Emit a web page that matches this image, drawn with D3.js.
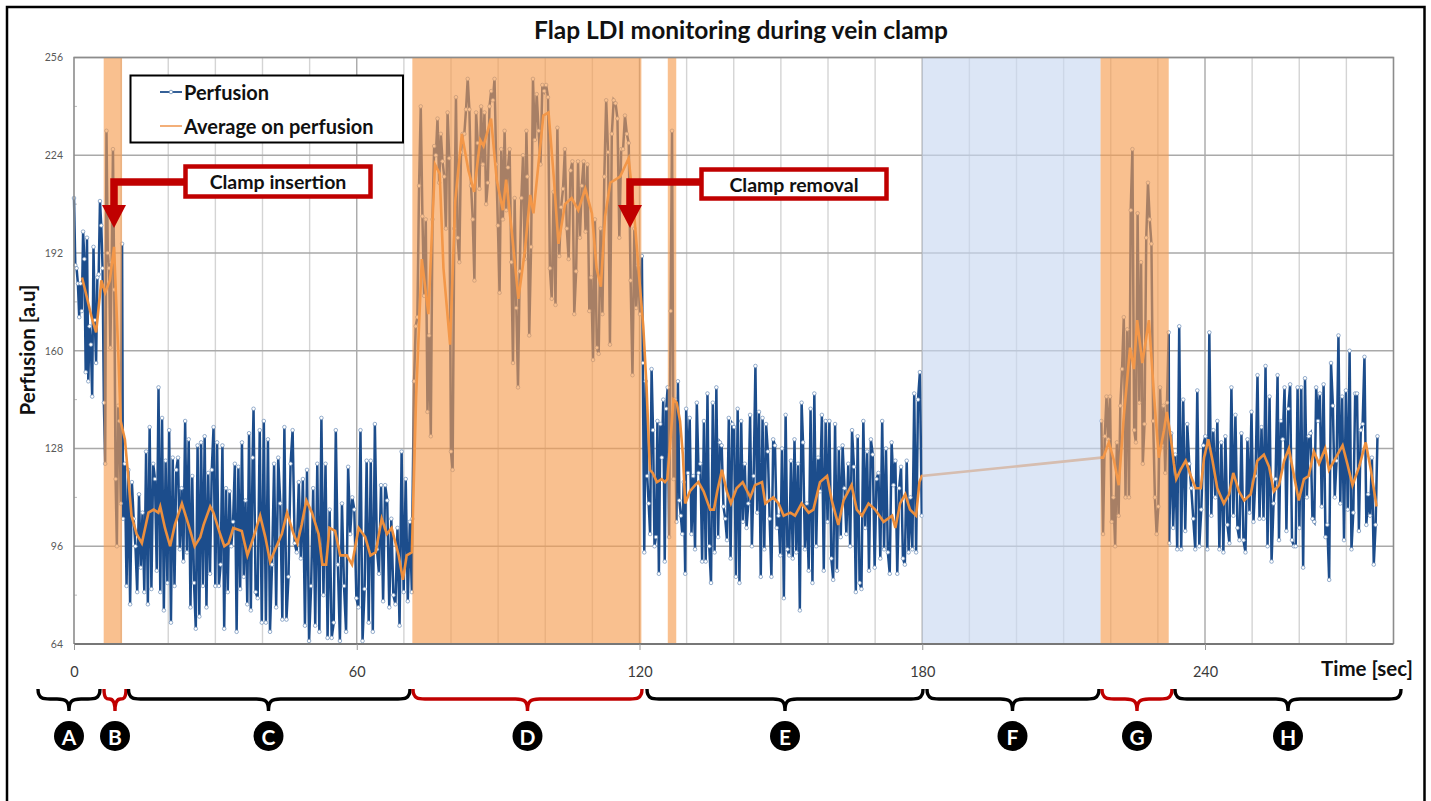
<!DOCTYPE html>
<html lang="en">
<head>
<meta charset="UTF-8">
<title>Flap LDI monitoring during vein clamp</title>
<script src="https://d3js.org/d3.v7.min.js"></script>
<style>
body { margin: 0; background: #fff; }
text { font-family: Lato, "Open Sans", sans-serif; }
</style>
</head>
<body>
<script>
// perfusion readings, one list per stretch of the trace
const perfAB = [210,188,187,182,171,182,173,199,190,153,197,150,168,162,145,194,170,156,184,185,209,201,187,143,123,232,192,187,161,189,226,180,118,96,142,137,110,195];
const perfC1 = [105,123,83,121,77,117,105,96,81,113,89,107,81,127,77,135,82,123,118,88,148,81,138,75,124,84,134,71,125,83,121,125,95,115,91,137,94,131,76,119,84,69,129,73,130,83,132,76,120,87,121,135,83,130,83,90,129,69,115,81,114,96,104,123,68,122,82,130,86,111,77,133,75,125];
const perfC2 = [141,81,79,134,71,137,71,131,68,90,123,76,125,110,72,135,72,86,123,134,97,94,117,92,118,70,121,65,83,115,70,123,68,138,80,123,66,108,66,71,134,90,65,110,83,68,122,100,112,108,79,76,134,65,82,124,71,124,68,136,95,87,116,78,116,111,76,105,80,77,102,70,127,81,118,78,104,81];
const perfD1 = [105,150,168,171,214,240,204,178,203,140,165,132,203,227,224,236,215,231,222,217,200,238,223,127,121,200,243,197,189,225,231,231,239,249,239,214,203,183,238,228,213,240,221,238,208,215,240,245,242,249,221,201,179,226,203,232,206,220,226,189,156,210,174,148,186,210,224,190,232];
const perfD2 = [217,165,194,249,229,244,232,221,247,245,247,243,187,177,212,175,233,191,207,213,226,200,190,219,222,172,186,222,197,214,222,199,221,173,184,157,203,161,159,200,172,217,242,225,162,231,242,241,236,197,226,226,237,231,228,183,152,200,174,188,172,191];
const perfE1 = [156,94,150,119,110,100,154,134,96,99,137,87,136,125,144,91,141,148,99,173,232,118,144,104,150,111,106,100,117,87];
const perfE2 = [141,120,138,100,119,95,143,120,123,91,137,91,146,96,84,143,94,148,99,130,129,109,105,98,138,92,136,135,86,141,84,137,104,123,102,110,139,96,119,155,107,140,86,138,95,136,127,105,86,131,129,102,106,93,128,79,139,95,93,124,92,131,94,123,75,143];
const perfE3 = [130,95,110,88,141,84,146,96,125,114,139,88,137,104,137,92,85,136,88,128,99,129,115,100,123,96,134,122,81,132,84,82,137,102,127,88,131,126,89,118,120,92,137,95,128,94,87,130,116,124,87,115,122,92,90,124,94,112,95,146,94,144,153,106];
const perfG = [137,100,132,145,131,145,104,112,96,130,106,142,154,171,112,167,112,206,226,134,130,205,143,189,123,136,197,215,203,195,137,112,100,109,148,129,142,120,143,166];
const perfH1 = [97,133,102,126,95,168,95,144,101,136,123,115,105,95,147,96,108,129,132,95,166,106,134,112,137,95,130,94,132,103,97,148,106,139,102,98,133,98,94,131,107,140,104,119,152,105,135,105,155,96,145,91,110,118,152];
const perfH2 = [98,137,131,148,101,141,149,98,96,96,148,102,148,89,151,112,132,133,105,104,148,137,146,109,149,99,103,85,156,142,112,124,165,110,145,98,147,108,160,95,107,146,146,101,134,136,158,103,113,106,125,90,103,132];

// start and end second of each stretch
const firstRuns = [[perfAB,0,10.2],[perfC1,10.4,37.9],[perfC2,38.1,71.7],[perfD1,71.8,96],[perfD2,96.2,120.5],[perfE1,120.7,129.7],[perfE2,129.9,154.4],[perfE3,154.7,179.9]];
const secondRuns = [[perfG,218,232.3],[perfH1,232.4,255.4],[perfH2,255.7,276.6]];

const avgTimes = [1.7,2.5,3.9,4.7,5.8,6.6,7.6,8.5,9.4,9.9,10.8,11.5,12.2,13.3,14.4,15.1,15.8,16.9,17.9,18.3,19.3,20.4,21.4,22.9,24.3,25.6,26.8,27.5,28.9,29.6,31,31.9,32.8,33.8,35.6,36.8,38.1,39.5,40.6,41.6,42.7,44.1,45.2,46.6,47.4,48.3,49.3,50.5,51.9,52.7,53.5,54.2,55.4,56.5,57.9,59,60.4,61.8,62.9,64,65.3,66.4,67.4,68.9,69.8,70.6,71.7,72.6,73.8,75.2,76.6,77.6,78.4,79.8,80.9,82.3,83.7,84.9,86.2,86.9,88.5,89.7,91,91.7,92.9,94.3,95.7,96.8,97.5,99.6,100.7,101.8,102.8,104.2,105.6,107,108.5,109.9,110.9,111.8,112.7,113.8,115.9,117.7,118.7,120.1,120.8,121.5,122.2,122.8,123.7,124.7,125.4,125.9,126.5,127.2,127.9,128.6,129.2,129.7,130.7,131.8,132.5,133.6,135,135.8,136.5,137.5,138.5,139.4,140.6,141.9,143.5,144.5,146,146.7,148.4,149.5,150.6,152,153,154.4,155.9,156.9,158.3,159.8,160.8,162.2,163.3,165,166.1,167.2,168.6,170,171.8,173.6,174.3,175.3,176.4,177.4,178.7,179.4,179.9,218,218.4,219.6,220.7,221.7,222.8,224.1,224.9,225.6,226.7,228.1,229.2,230.2,231.3,231.9,232.7,233.4,233.9,234.8,235.9,237,238,239.1,239.8,240.7,241.6,242.6,244,245.1,246,247.2,248.3,249.7,251.1,252.5,253.6,254.6,255.7,256.8,257.8,258.9,259.9,261,262,263.1,264.2,265.5,266.3,267.4,269.2,270.2,271.3,272.7,274.1,275.2,276.4];
const avgValues = [184,179,170,166,183,179,183,194,159,137,131,119,106,100,97,102,107,108,107,109,102,96,103,110,103,96,99,103,109,107,100,96,97,102,101,93,99,106,99,91,95,100,107,100,97,103,111,107,100,90,90,102,101,93,93,90,102,99,93,94,105,100,102,93,85,93,94,145,190,172,221,218,187,162,209,231,219,212,229,227,236,216,206,216,199,177,193,211,205,237,238,217,195,208,210,206,213,205,187,181,204,215,217,223,208,181,168,148,121,120,117,118,117,118,129,144,143,137,126,110,114,116,117,114,108,108,114,121,114,110,115,117,112,116,117,110,112,110,106,107,106,110,107,108,117,119,111,103,111,116,108,106,110,108,104,106,102,110,113,108,106,117,119,125,125,130,124,116,139,161,154,170,156,170,145,125,134,140,132,123,118,121,124,119,115,115,125,131,124,115,110,113,120,114,111,113,124,126,122,114,116,124,128,119,111,118,119,127,123,128,121,124,129,123,116,122,130,121,109];

const bandColoured = [[6.3,10.2],[71.8,120.4],[126,127.8],[217.8,232.3]];
const bandRest = [[180,217.8]];
const yTicks = [64,96,128,160,192,224,256];
const yMinor = [80,112,144,176,208,240];
const xTicks = [0,60,120,180,240];
const gridTimes = [10,20,30,40,50,60,70,80,90,100,110,120,130,140,150,160,170,180,190,200,210,220,230,240,250,260,270];

// phase braces under the axis, pixels on the page: letter, left, right, centre
const phases = [
  ['A',38,100,69,'#000'],
  ['B',104,126,115,'#c00000'],
  ['C',128.5,410,268.5,'#000'],
  ['D',413,642,527.5,'#c00000'],
  ['E',647,923,785,'#000'],
  ['F',927,1099,1012.5,'#000'],
  ['G',1102,1172,1137,'#c00000'],
  ['H',1175,1401,1288,'#000']
];

const width = 1431, height = 801;
const plotL = 74, plotR = 1393.5, plotT = 57.5, plotB = 644;

const svg = d3.select('body').append('svg')
  .attr('width', width)
  .attr('height', height)
  .style('display', 'block');

// soft look of the original
const defs = svg.append('defs');
defs.append('filter').attr('id', 'soft').attr('x', '-2%').attr('y', '-2%').attr('width', '104%').attr('height', '104%')
  .append('feGaussianBlur').attr('stdDeviation', 0.4);

let x = d3.scaleLinear().domain([0, 280]).range([plotL, plotR]);
let y = d3.scaleLinear().domain([64, 256]).range([plotB, plotT]);

// page frame, open at the bottom
svg.append('path')
  .attr('d', `M7,${height}V7H1424.5V${height}`)
  .attr('fill', 'none')
  .attr('stroke', '#000')
  .attr('stroke-width', 2.5);

svg.append('text')
  .attr('x', 741).attr('y', 29)
  .attr('text-anchor', 'middle').attr('dominant-baseline', 'central')
  .attr('font-size', 24.5).attr('font-weight', 700).attr('fill', '#111')
  .text('Flap LDI monitoring during vein clamp');

// grid
let grid = svg.append('g');
grid.selectAll('.v').data(gridTimes).enter().append('line')
  .attr('class', 'v')
  .attr('x1', d => x(d)).attr('x2', d => x(d))
  .attr('y1', plotT).attr('y2', plotB)
  .attr('stroke', d => d % 60 == 0 ? '#a8a8a8' : '#d4d4d4')
  .attr('stroke-width', 1.4);
grid.selectAll('.h').data(yTicks.slice(1)).enter().append('line')
  .attr('class', 'h')
  .attr('x1', plotL).attr('x2', plotR)
  .attr('y1', d => y(d)).attr('y2', d => y(d))
  .attr('stroke', '#a9a9a9')
  .attr('stroke-width', 1.4);
grid.selectAll('.m').data(yMinor).enter().append('line')
  .attr('class', 'm')
  .attr('x1', plotL).attr('x2', plotL + 3)
  .attr('y1', d => y(d)).attr('y2', d => y(d))
  .attr('stroke', '#bbb');

// expand the stretches into time/value points
function toPoints(runs) {
  let pts = [];
  runs.forEach(([vals, t0, t1]) => {
    vals.forEach((v, i) => pts.push({ t: t0 + i * (t1 - t0) / (vals.length - 1), v: v }));
  });
  return pts;
}
const perfusionFirst = toPoints(firstRuns);
const perfusionSecond = toPoints(secondRuns);
const average = avgTimes.map((t, i) => ({ t: t, v: avgValues[i] }));

const line = d3.line().x(d => x(d.t)).y(d => y(d.v));

let marks = svg.append('g').attr('filter', 'url(#soft)');
[perfusionFirst, perfusionSecond].forEach(pts => {
  marks.append('path')
    .attr('d', line(pts))
    .attr('fill', 'none')
    .attr('stroke', '#1f4e8c')
    .attr('stroke-width', 2.5);
});
marks.selectAll('circle').data(perfusionFirst.concat(perfusionSecond)).enter().append('circle')
  .attr('cx', d => x(d.t))
  .attr('cy', d => y(d.v))
  .attr('r', 1.8)
  .attr('fill', '#fff')
  .attr('stroke', '#6a8db8')
  .attr('stroke-width', 0.7);
marks.append('path')
  .attr('d', line(average))
  .attr('fill', 'none')
  .attr('stroke', '#ed8f3c')
  .attr('stroke-width', 2.6);

// shaded phases sit over the traces
let bands = svg.append('g');
bands.selectAll('.o').data(bandColoured).enter().append('rect')
  .attr('class', 'o')
  .attr('x', d => x(d[0])).attr('width', d => x(d[1]) - x(d[0]))
  .attr('y', plotT).attr('height', plotB - plotT)
  .attr('fill', '#f69c50').attr('fill-opacity', 0.64);
bands.selectAll('.b').data(bandRest).enter().append('rect')
  .attr('class', 'b')
  .attr('x', d => x(d[0])).attr('width', d => x(d[1]) - x(d[0]))
  .attr('y', plotT).attr('height', plotB - plotT)
  .attr('fill', '#c8d8f1').attr('fill-opacity', 0.64);

// plot edges
svg.append('path')
  .attr('d', `M${plotL},${plotB}V${plotT}H${plotR}V${plotB}`)
  .attr('fill', 'none').attr('stroke', '#8c8c8c').attr('stroke-width', 1.6);

// axes
let yAxis = svg.append('g')
  .attr('transform', `translate(${plotL - 11},0)`)
  .call(d3.axisLeft(y).tickValues(yTicks).tickSize(0).tickPadding(0));
yAxis.select('.domain').remove();
yAxis.selectAll('text').attr('font-size', 10.5).attr('fill', '#595959').style('font-family', 'Lato, sans-serif');

let xAxis = svg.append('g')
  .attr('transform', `translate(0,${plotB})`)
  .call(d3.axisBottom(x).tickValues(xTicks).tickSize(6).tickPadding(17));
xAxis.select('.domain').attr('d', `M${plotL},0H${plotR}`).attr('stroke', '#777').attr('stroke-width', 2);
xAxis.selectAll('line').attr('stroke', '#999');
xAxis.selectAll('text').attr('font-size', 14.5).attr('fill', '#3a3a3a').style('font-family', 'Lato, sans-serif');

svg.append('text')
  .attr('transform', 'translate(27,350) rotate(-90)')
  .attr('text-anchor', 'middle').attr('dominant-baseline', 'central')
  .attr('font-size', 20.5).attr('font-weight', 700).attr('fill', '#111')
  .text('Perfusion [a.u]');
svg.append('text')
  .attr('x', 1413).attr('y', 668)
  .attr('text-anchor', 'end').attr('dominant-baseline', 'central')
  .attr('font-size', 20.5).attr('font-weight', 700).attr('fill', '#111')
  .text('Time [sec]');

// legend
let legend = svg.append('g');
legend.append('rect')
  .attr('x', 130.5).attr('y', 75.5).attr('width', 272.5).attr('height', 67)
  .attr('fill', '#fff').attr('stroke', '#000').attr('stroke-width', 2);
legend.append('line').attr('x1', 160).attr('x2', 182).attr('y1', 92).attr('y2', 92)
  .attr('stroke', '#1f4e8c').attr('stroke-width', 1.8);
legend.append('circle').attr('cx', 171).attr('cy', 92).attr('r', 1.8)
  .attr('fill', '#fff').attr('stroke', '#6a8db8').attr('stroke-width', 0.8);
legend.append('line').attr('x1', 160).attr('x2', 182).attr('y1', 126).attr('y2', 126)
  .attr('stroke', '#f2a66a').attr('stroke-width', 1.8);
legend.selectAll('text').data([['Perfusion', 92], ['Average on perfusion', 126]]).enter().append('text')
  .attr('x', 184).attr('y', d => d[1])
  .attr('dominant-baseline', 'central')
  .attr('font-size', 20).attr('font-weight', 700).attr('fill', '#111')
  .text(d => d[0]);

// clamp callouts
const darkRed = '#c00000';
function callout(boxX, boxY, boxW, boxH, label, arrowX, arrowY) {
  let g = svg.append('g');
  g.append('path')
    .attr('d', `M${boxX},${arrowY}H${arrowX}V206`)
    .attr('fill', 'none').attr('stroke', darkRed).attr('stroke-width', 7.5);
  g.append('path')
    .attr('d', `M${arrowX - 12},205H${arrowX + 12}L${arrowX},228Z`)
    .attr('fill', darkRed);
  g.append('rect')
    .attr('x', boxX).attr('y', boxY).attr('width', boxW).attr('height', boxH)
    .attr('fill', '#fff').attr('stroke', darkRed).attr('stroke-width', 4.5);
  g.append('text')
    .attr('x', boxX + boxW / 2).attr('y', boxY + boxH / 2)
    .attr('text-anchor', 'middle').attr('dominant-baseline', 'central')
    .attr('font-size', 19.5).attr('font-weight', 700).attr('fill', '#111')
    .text(label);
}
callout(185.5, 166.5, 185, 30, 'Clamp insertion', 114, 182);
callout(701.5, 169.5, 185, 29, 'Clamp removal', 630, 182);

// braces and letters
function bracePath(a, b, c) {
  const t = 689, m = 699, tip = 711, r = Math.min(12, (c - a) / 2);
  return `M${a},${t}C${a},${m} ${a + r / 2},${m} ${a + r},${m}H${c - r}C${c - 3},${m} ${c},${m + 2} ${c},${tip}`
    + `C${c},${m + 2} ${c + 3},${m} ${c + r},${m}H${b - r}C${b - r / 2},${m} ${b},${m} ${b},${t}`;
}
let below = svg.append('g');
below.selectAll('path').data(phases).enter().append('path')
  .attr('d', d => bracePath(d[1], d[2], d[3]))
  .attr('fill', 'none')
  .attr('stroke', d => d[4])
  .attr('stroke-width', 3.4);
below.selectAll('circle').data(phases).enter().append('circle')
  .attr('cx', d => d[3]).attr('cy', 736).attr('r', 15).attr('fill', '#000');
below.selectAll('text').data(phases).enter().append('text')
  .attr('x', d => d[3]).attr('y', 736)
  .attr('text-anchor', 'middle').attr('dominant-baseline', 'central')
  .attr('font-size', 21).attr('font-weight', 700).attr('fill', '#fff')
  .text(d => d[0]);
</script>
</body>
</html>
